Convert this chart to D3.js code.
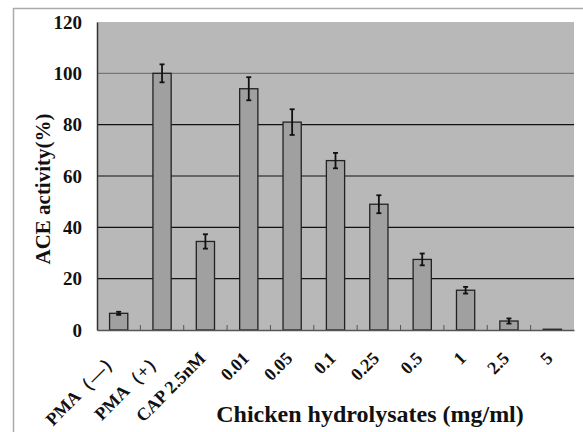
<!DOCTYPE html>
<html><head><meta charset="utf-8">
<script src="https://cdn.jsdelivr.net/npm/d3@7"></script>
<style>body{margin:0;background:#fff}svg{display:block}</style>
</head><body>
<svg id="c" width="583" height="432"></svg>
<script>
const categories = ["PMA（—）","PMA（+）","CAP 2.5nM","0.01","0.05","0.1","0.25","0.5","1","2.5","5"];
const values = [6.5,100,34.5,94,81,66,49,27.5,15.5,3.5,0.3];
const errors = [0.6,3.5,2.8,4.5,5,3,3.5,2.3,1.3,1,0];
const yTicks = [0,20,40,60,80,100,120];

const svg = d3.select("#c");
const m = {l:97, r:574, t:22, b:330};
const font = "'Liberation Serif','Times New Roman',serif";

// outer frame
svg.append("line").attr("x1",13).attr("x2",583).attr("y1",8.5).attr("y2",8.5).attr("stroke","#aaa").attr("stroke-width",1.5);
svg.append("line").attr("x1",13.5).attr("x2",13.5).attr("y1",8).attr("y2",432).attr("stroke","#aaa").attr("stroke-width",1.5);

const x = d3.scaleBand().domain(categories).range([m.l,m.r]).paddingInner(0.58).paddingOuter(0.29);
const y = d3.scaleLinear().domain([0,120]).range([m.b,m.t]);

svg.append("rect").attr("x",m.l).attr("y",m.t).attr("width",m.r-m.l).attr("height",m.b-m.t).attr("fill","#b8b8b8");

// gridlines
svg.append("g").selectAll("line").data(yTicks.filter(d=>d>0 && d<120)).join("line")
  .attr("x1",m.l).attr("x2",m.r).attr("y1",d=>y(d)).attr("y2",d=>y(d))
  .attr("stroke",d=>d===100?"#777":"#111").attr("stroke-width",1.2);

// bars
svg.append("g").selectAll("rect").data(values).join("rect")
  .attr("x",(d,i)=>x(categories[i])).attr("width",x.bandwidth())
  .attr("y",d=>y(d)).attr("height",d=>y(0)-y(d))
  .attr("fill","#a0a0a0").attr("stroke","#222").attr("stroke-width",1.3);

// error bars
const eb = svg.append("g").attr("stroke","#111").attr("stroke-width",1.8);
values.forEach((v,i)=>{
  const cx = x(categories[i])+x.bandwidth()/2;
  const e = errors[i];
  if(e<=0) return;
  eb.append("line").attr("x1",cx).attr("x2",cx).attr("y1",y(v+e)).attr("y2",y(v-e));
  eb.append("line").attr("x1",cx-2.5).attr("x2",cx+2.5).attr("y1",y(v+e)).attr("y2",y(v+e));
  eb.append("line").attr("x1",cx-2.5).attr("x2",cx+2.5).attr("y1",y(v-e)).attr("y2",y(v-e));
});

// axes
const yAxis = svg.append("g").attr("transform",`translate(${m.l},0)`)
  .call(d3.axisLeft(y).tickValues(yTicks).tickSize(0).tickPadding(15));
yAxis.select(".domain").attr("stroke","#333").attr("stroke-width",1.5);
yAxis.selectAll("text").attr("font-family",font).attr("font-weight","bold").attr("font-size",19).attr("fill","#111");

const xAxis = svg.append("g").attr("transform",`translate(0,${m.b})`)
  .call(d3.axisBottom(x).tickSize(0).tickPadding(0));
xAxis.select(".domain").attr("stroke","#555").attr("stroke-width",1.5);
xAxis.selectAll("text").attr("font-family",font).attr("font-weight","bold").attr("font-size",18).attr("fill","#111")
  .attr("text-anchor","end").attr("x",0).attr("y",0).attr("dy","0.35em")
  .attr("transform","translate(-3,25) rotate(-45)");

// minor ticks between categories
const step = x.step();
svg.append("g").selectAll("line").data(categories.slice(1)).join("line")
  .attr("x1",d=>x(d)-x.paddingInner()*step/2).attr("x2",d=>x(d)-x.paddingInner()*step/2)
  .attr("y1",m.b).attr("y2",m.b-5).attr("stroke","#555").attr("stroke-width",1);

// titles
svg.append("text").attr("x",370).attr("y",422).attr("text-anchor","middle")
  .attr("font-family",font).attr("font-weight","bold").attr("font-size",24).attr("fill","#111")
  .text("Chicken hydrolysates (mg/ml)");
svg.append("text").attr("transform","translate(50,189) rotate(-90)").attr("text-anchor","middle")
  .attr("font-family",font).attr("font-weight","bold").attr("font-size",21).attr("fill","#111")
  .text("ACE activity(%)");
</script>
</body></html>
